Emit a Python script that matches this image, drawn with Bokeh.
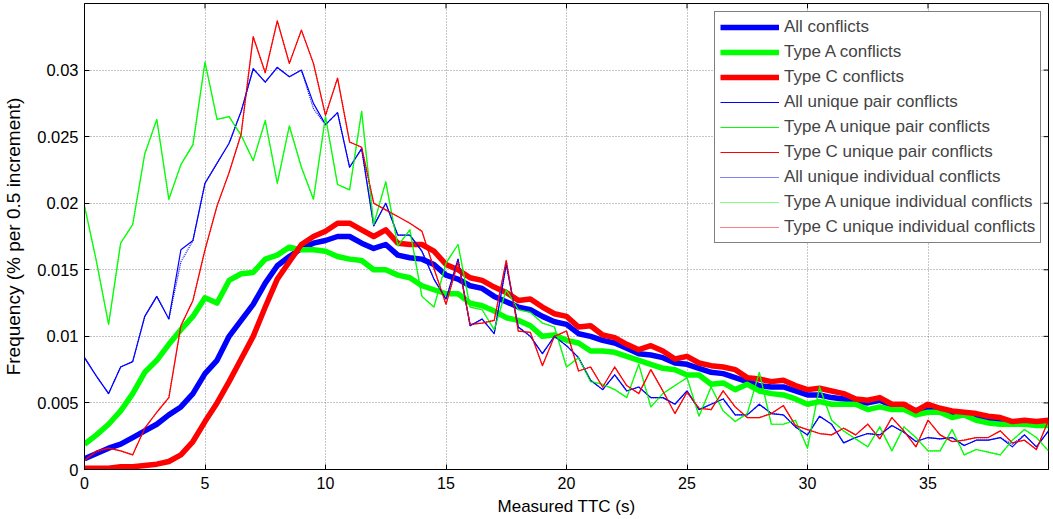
from bokeh.plotting import figure
from bokeh.models import Range1d, FixedTicker, Legend, LegendItem
from bokeh.embed import file_html
from bokeh.resources import INLINE

# Measured TTC bins (s), 0.5 s increments
ttc = [0.0, 0.5, 1.0, 1.5, 2.0, 2.5, 3.0, 3.5, 4.0, 4.5,
       5.0, 5.5, 6.0, 6.5, 7.0, 7.5, 8.0, 8.5, 9.0, 9.5,
       10.0, 10.5, 11.0, 11.5, 12.0, 12.5, 13.0, 13.5, 14.0, 14.5,
       15.0, 15.5, 16.0, 16.5, 17.0, 17.5, 18.0, 18.5, 19.0, 19.5,
       20.0, 20.5, 21.0, 21.5, 22.0, 22.5, 23.0, 23.5, 24.0, 24.5,
       25.0, 25.5, 26.0, 26.5, 27.0, 27.5, 28.0, 28.5, 29.0, 29.5,
       30.0, 30.5, 31.0, 31.5, 32.0, 32.5, 33.0, 33.5, 34.0, 34.5,
       35.0, 35.5, 36.0, 36.5, 37.0, 37.5, 38.0, 38.5, 39.0, 39.5, 40.0]

all_conflicts = [
    0.0008, 0.0012, 0.0016, 0.0019, 0.0024, 0.0029, 0.0034, 0.0041, 0.0047, 0.0057,
    0.0072, 0.0082, 0.0100, 0.0112, 0.0124, 0.0140, 0.0153, 0.0160, 0.0166, 0.0170,
    0.0172, 0.0175, 0.0175, 0.0170, 0.0166, 0.0169, 0.0161, 0.0159, 0.0158, 0.0154,
    0.0146, 0.0143, 0.0138, 0.0136, 0.0130, 0.0126, 0.0122, 0.0120, 0.0115, 0.0111,
    0.0109, 0.0102, 0.0100, 0.0097, 0.0095, 0.0091, 0.0087, 0.0086, 0.0084, 0.0080,
    0.0079, 0.0076, 0.0073, 0.0072, 0.0069, 0.0066, 0.0063, 0.0062, 0.0062, 0.0059,
    0.0056, 0.0056, 0.0054, 0.0053, 0.0051, 0.0050, 0.0052, 0.0048, 0.0047, 0.0044,
    0.0047, 0.0044, 0.0042, 0.0041, 0.0039, 0.0038, 0.0037, 0.0035, 0.0035, 0.0035, 0.0036]

type_a_conflicts = [
    0.0019, 0.0026, 0.0034, 0.0044, 0.0057, 0.0073, 0.0082, 0.0094, 0.0105, 0.0115,
    0.0129, 0.0125, 0.0142, 0.0147, 0.0148, 0.0158, 0.0161, 0.0167, 0.0165, 0.0165,
    0.0164, 0.0160, 0.0158, 0.0157, 0.0150, 0.0150, 0.0146, 0.0144, 0.0138, 0.0135,
    0.0132, 0.0132, 0.0125, 0.0123, 0.0119, 0.0114, 0.0112, 0.0108, 0.0100, 0.0101,
    0.0097, 0.0095, 0.0089, 0.0089, 0.0088, 0.0085, 0.0082, 0.0079, 0.0076, 0.0075,
    0.0071, 0.0071, 0.0064, 0.0065, 0.0060, 0.0064, 0.0059, 0.0057, 0.0056, 0.0053,
    0.0049, 0.0051, 0.0049, 0.0049, 0.0049, 0.0045, 0.0047, 0.0045, 0.0045, 0.0041,
    0.0043, 0.0043, 0.0039, 0.0041, 0.0037, 0.0035, 0.0034, 0.0034, 0.0034, 0.0033, 0.0033]

type_c_conflicts = [
    0.0001, 0.0001, 0.0001, 0.0002, 0.0002, 0.0003, 0.0004, 0.0006, 0.0011, 0.0021,
    0.0036, 0.0050, 0.0066, 0.0083, 0.0100, 0.0122, 0.0143, 0.0156, 0.0169, 0.0175,
    0.0179, 0.0185, 0.0185, 0.0180, 0.0175, 0.0180, 0.0170, 0.0169, 0.0169, 0.0164,
    0.0154, 0.0150, 0.0144, 0.0142, 0.0137, 0.0133, 0.0127, 0.0128, 0.0122, 0.0117,
    0.0115, 0.0107, 0.0108, 0.0101, 0.0099, 0.0094, 0.0090, 0.0093, 0.0089, 0.0083,
    0.0085, 0.0080, 0.0078, 0.0077, 0.0075, 0.0069, 0.0068, 0.0066, 0.0067, 0.0063,
    0.0060, 0.0061, 0.0059, 0.0057, 0.0053, 0.0052, 0.0054, 0.0049, 0.0049, 0.0044,
    0.0049, 0.0046, 0.0044, 0.0043, 0.0042, 0.0040, 0.0039, 0.0036, 0.0037, 0.0036, 0.0037]

all_unique_pair = [
    0.0084, 0.0070, 0.0057, 0.0077, 0.0081, 0.0115, 0.0130, 0.0113, 0.0165, 0.0172,
    0.0215, 0.0230, 0.0245, 0.0269, 0.0301, 0.0291, 0.0302, 0.0295, 0.0300, 0.0275,
    0.0259, 0.0268, 0.0227, 0.0241, 0.0183, 0.0200, 0.0176, 0.0176, 0.0164, 0.0143,
    0.0128, 0.0158, 0.0108, 0.0113, 0.0102, 0.0154, 0.0107, 0.0100, 0.0087, 0.0100,
    0.0093, 0.0084, 0.0067, 0.0060, 0.0071, 0.0059, 0.0062, 0.0054, 0.0054, 0.0049,
    0.0059, 0.0045, 0.0049, 0.0053, 0.0041, 0.0041, 0.0049, 0.0042, 0.0041, 0.0032,
    0.0026, 0.0040, 0.0034, 0.0020, 0.0024, 0.0027, 0.0026, 0.0033, 0.0028, 0.0021,
    0.0024, 0.0023, 0.0024, 0.0018, 0.0022, 0.0022, 0.0024, 0.0017, 0.0026, 0.0017, 0.0029]

type_a_unique_pair = [
    0.0198, 0.0156, 0.0109, 0.0170, 0.0184, 0.0237, 0.0263, 0.0203, 0.0229, 0.0244,
    0.0306, 0.0263, 0.0265, 0.0251, 0.0232, 0.0262, 0.0215, 0.0258, 0.0227, 0.0203,
    0.0265, 0.0214, 0.0210, 0.0269, 0.0184, 0.0216, 0.0168, 0.0180, 0.0130, 0.0122,
    0.0155, 0.0169, 0.0122, 0.0120, 0.0105, 0.0135, 0.0120, 0.0118, 0.0110, 0.0107,
    0.0077, 0.0084, 0.0066, 0.0064, 0.0060, 0.0054, 0.0079, 0.0047, 0.0057, 0.0063,
    0.0069, 0.0040, 0.0062, 0.0044, 0.0036, 0.0042, 0.0073, 0.0034, 0.0034, 0.0037,
    0.0016, 0.0062, 0.0037, 0.0029, 0.0023, 0.0017, 0.0032, 0.0014, 0.0032, 0.0024,
    0.0014, 0.0014, 0.0030, 0.0011, 0.0015, 0.0013, 0.0011, 0.0022, 0.0030, 0.0024, 0.0014]

type_c_unique_pair = [
    0.0007, 0.0014, 0.0016, 0.0014, 0.0011, 0.0031, 0.0043, 0.0054, 0.0108, 0.0127,
    0.0165, 0.0198, 0.0223, 0.0252, 0.0325, 0.0298, 0.0337, 0.0305, 0.0330, 0.0305,
    0.0266, 0.0294, 0.0246, 0.0242, 0.0200, 0.0195, 0.0190, 0.0185, 0.0179, 0.0151,
    0.0124, 0.0156, 0.0109, 0.0110, 0.0112, 0.0157, 0.0104, 0.0103, 0.0078, 0.0100,
    0.0104, 0.0074, 0.0077, 0.0062, 0.0077, 0.0063, 0.0057, 0.0075, 0.0059, 0.0042,
    0.0058, 0.0046, 0.0045, 0.0059, 0.0047, 0.0039, 0.0039, 0.0042, 0.0048, 0.0033,
    0.0030, 0.0027, 0.0026, 0.0031, 0.0026, 0.0034, 0.0023, 0.0039, 0.0029, 0.0017,
    0.0037, 0.0026, 0.0021, 0.0022, 0.0024, 0.0024, 0.0029, 0.0020, 0.0022, 0.0015, 0.0037]

all_unique_individual = [
    0.0084, 0.0070, 0.0057, 0.0077, 0.0081, 0.0115, 0.0130, 0.0113, 0.0156, 0.0172,
    0.0215, 0.0230, 0.0245, 0.0269, 0.0301, 0.0291, 0.0302, 0.0295, 0.0300, 0.0271,
    0.0259, 0.0268, 0.0227, 0.0241, 0.0183, 0.0200, 0.0176, 0.0176, 0.0164, 0.0143,
    0.0128, 0.0158, 0.0108, 0.0113, 0.0102, 0.0154, 0.0107, 0.0100, 0.0087, 0.0100,
    0.0093, 0.0084, 0.0067, 0.0060, 0.0071, 0.0059, 0.0062, 0.0054, 0.0054, 0.0049,
    0.0059, 0.0045, 0.0049, 0.0053, 0.0041, 0.0041, 0.0049, 0.0042, 0.0041, 0.0032,
    0.0026, 0.0040, 0.0034, 0.0020, 0.0024, 0.0027, 0.0026, 0.0033, 0.0028, 0.0021,
    0.0024, 0.0023, 0.0024, 0.0018, 0.0022, 0.0022, 0.0024, 0.0019, 0.0026, 0.0017, 0.0029]

type_a_unique_individual = [
    0.0198, 0.0156, 0.0109, 0.0170, 0.0184, 0.0237, 0.0263, 0.0203, 0.0229, 0.0244,
    0.0306, 0.0263, 0.0265, 0.0251, 0.0232, 0.0262, 0.0215, 0.0258, 0.0227, 0.0203,
    0.0265, 0.0214, 0.0210, 0.0269, 0.0184, 0.0216, 0.0168, 0.0180, 0.0130, 0.0122,
    0.0155, 0.0169, 0.0122, 0.0120, 0.0105, 0.0135, 0.0120, 0.0118, 0.0110, 0.0107,
    0.0077, 0.0084, 0.0066, 0.0064, 0.0060, 0.0054, 0.0079, 0.0047, 0.0057, 0.0063,
    0.0069, 0.0040, 0.0062, 0.0044, 0.0036, 0.0042, 0.0073, 0.0034, 0.0034, 0.0037,
    0.0016, 0.0062, 0.0037, 0.0029, 0.0023, 0.0017, 0.0032, 0.0014, 0.0032, 0.0024,
    0.0014, 0.0014, 0.0030, 0.0011, 0.0015, 0.0013, 0.0011, 0.0022, 0.0030, 0.0024, 0.0014]

type_c_unique_individual = [
    0.0007, 0.0013, 0.0016, 0.0014, 0.0011, 0.0031, 0.0043, 0.0054, 0.0108, 0.0127,
    0.0165, 0.0198, 0.0223, 0.0252, 0.0325, 0.0298, 0.0337, 0.0305, 0.0330, 0.0305,
    0.0266, 0.0294, 0.0246, 0.0242, 0.0200, 0.0195, 0.0190, 0.0185, 0.0179, 0.0151,
    0.0124, 0.0156, 0.0109, 0.0110, 0.0112, 0.0157, 0.0104, 0.0103, 0.0078, 0.0100,
    0.0104, 0.0074, 0.0077, 0.0062, 0.0077, 0.0063, 0.0057, 0.0075, 0.0059, 0.0042,
    0.0058, 0.0046, 0.0045, 0.0059, 0.0047, 0.0039, 0.0039, 0.0042, 0.0048, 0.0033,
    0.0030, 0.0027, 0.0026, 0.0031, 0.0026, 0.0034, 0.0023, 0.0039, 0.0029, 0.0017,
    0.0037, 0.0026, 0.0021, 0.0022, 0.0024, 0.0024, 0.0029, 0.0020, 0.0022, 0.0015, 0.0037]

x_ticks = [0, 5, 10, 15, 20, 25, 30, 35]
y_ticks = [0, 0.005, 0.01, 0.015, 0.02, 0.025, 0.03]
y_tick_labels = ["0", "0.005", "0.01", "0.015", "0.02", "0.025", "0.03"]

FONT = "Liberation Sans"
BLUE, GREEN, RED = "#0000ff", "#00ff00", "#ff0000"

X_END, Y_END = 40, 0.035
W, H = 1053, 519
BORDER_L, BORDER_R, BORDER_T, BORDER_B = 82, 5, 3, 50

p = figure(width=W, height=H, x_range=Range1d(0, X_END), y_range=Range1d(0, Y_END),
           output_backend="svg", toolbar_location=None,
           min_border_left=BORDER_L, min_border_right=BORDER_R,
           min_border_top=BORDER_T, min_border_bottom=BORDER_B,
           x_axis_label="Measured TTC (s)", y_axis_label="Frequency (% per 0.5 increment)")
p.background_fill_color = "white"
p.border_fill_color = "white"
p.outline_line_color = "black"
p.outline_line_width = 1

# axes with inward ticks, like a boxed engineering plot
for ax in p.xaxis + p.yaxis:
    ax.axis_line_color = "black"
    ax.major_tick_line_color = "black"
    ax.major_tick_in = 5
    ax.major_tick_out = 0
    ax.minor_tick_line_color = None
    ax.major_label_text_font = FONT
    ax.major_label_text_color = "black"
    ax.axis_label_text_font = FONT
    ax.axis_label_text_font_style = "normal"
    ax.axis_label_text_color = "black"

p.xaxis.ticker = FixedTicker(ticks=x_ticks)
p.yaxis.ticker = FixedTicker(ticks=y_ticks)
p.yaxis.major_label_overrides = {t: s for t, s in zip(y_ticks, y_tick_labels)}
p.xaxis.major_label_text_font_size = "16px"
p.yaxis.major_label_text_font_size = "16.5px"
p.xaxis.axis_label_text_font_size = "17px"
p.yaxis.axis_label_text_font_size = "19px"
p.xaxis.major_label_standoff = 7
p.xaxis.axis_label_standoff = 5
p.yaxis.major_label_standoff = 6
p.yaxis.axis_label_standoff = 10

p.xgrid.ticker = FixedTicker(ticks=x_ticks)
p.ygrid.ticker = FixedTicker(ticks=y_ticks)
for g in (p.xgrid, p.ygrid):
    g.grid_line_color = "#404040"
    g.grid_line_alpha = 0.6
    g.grid_line_dash = "1 2"
    g.grid_line_width = 1

# inward tick marks on the top and right edges of the box (5 px long)
tick_dx = 5 * X_END / (W - BORDER_L - BORDER_R)
tick_dy = 5 * Y_END / (H - BORDER_T - BORDER_B)
p.segment(x0=x_ticks, y0=[Y_END] * len(x_ticks), x1=x_ticks,
          y1=[Y_END - tick_dy] * len(x_ticks), line_color="black", line_width=1)
p.segment(x0=[X_END] * len(y_ticks), y0=y_ticks, x1=[X_END - tick_dx] * len(y_ticks),
          y1=y_ticks, line_color="black", line_width=1)

series = [
    ("All conflicts", all_conflicts, BLUE, 5.5, "solid"),
    ("Type A conflicts", type_a_conflicts, GREEN, 5.5, "solid"),
    ("Type C conflicts", type_c_conflicts, RED, 5.5, "solid"),
    ("All unique pair conflicts", all_unique_pair, BLUE, 1.2, "solid"),
    ("Type A unique pair conflicts", type_a_unique_pair, GREEN, 1.2, "solid"),
    ("Type C unique pair conflicts", type_c_unique_pair, RED, 1.2, "solid"),
    ("All unique individual conflicts", all_unique_individual, BLUE, 1.2, "1 1"),
    ("Type A unique individual conflicts", type_a_unique_individual, GREEN, 1.2, "1 1"),
    ("Type C unique individual conflicts", type_c_unique_individual, RED, 1.2, "1 1"),
]

items = []
for label, ys, color, width, dash in series:
    r = p.line(ttc, ys, line_color=color, line_width=width, line_dash=dash,
               line_join="round")
    items.append(LegendItem(label=label, renderers=[r]))

legend = Legend(items=items, location=(630, 226.5),
                label_text_font=FONT, label_text_font_size="17px",
                glyph_width=59, glyph_height=20, label_height=20, spacing=5,
                padding=5, margin=0, label_standoff=5,
                border_line_color="black", border_line_width=1,
                background_fill_color="white", background_fill_alpha=1.0)
p.add_layout(legend)

open("out.html", "w").write(file_html(p, INLINE))
